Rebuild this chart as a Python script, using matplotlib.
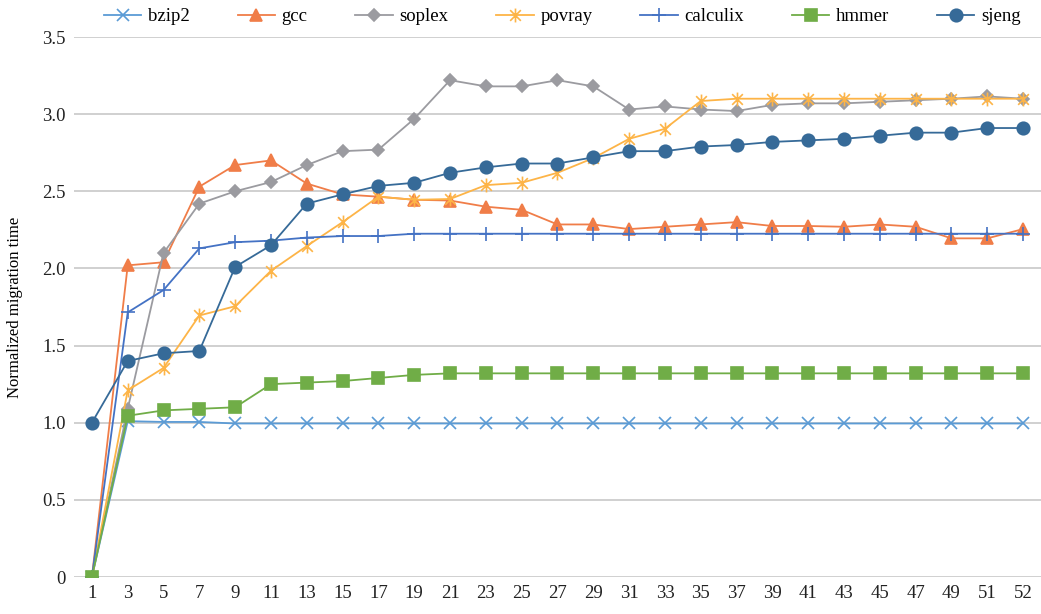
import numpy as np
import matplotlib.pyplot as plt
from matplotlib.path import Path

# x categories (evenly spaced on a category axis)
steps = ['1', '3', '5', '7', '9', '11', '13', '15', '17', '19', '21', '23', '25', '27',
         '29', '31', '33', '35', '37', '39', '41', '43', '45', '47', '49', '51', '52']

bzip2 = [0, 1.01, 1.005, 1.005, 0.995, 0.995, 0.995, 0.995, 0.995, 0.995, 0.995, 0.995, 0.995, 0.995,
         0.995, 0.995, 0.995, 0.995, 0.995, 0.995, 0.995, 0.995, 0.995, 0.995, 0.995, 0.995, 0.995]
gcc = [0, 2.02, 2.04, 2.53, 2.67, 2.70, 2.55, 2.48, 2.465, 2.445, 2.44, 2.40, 2.38, 2.285,
       2.285, 2.255, 2.27, 2.285, 2.30, 2.275, 2.275, 2.27, 2.285, 2.27, 2.195, 2.195, 2.255]
soplex = [0, 1.09, 2.10, 2.42, 2.50, 2.56, 2.67, 2.76, 2.77, 2.97, 3.22, 3.18, 3.18, 3.22,
          3.18, 3.03, 3.05, 3.03, 3.02, 3.06, 3.07, 3.07, 3.08, 3.09, 3.10, 3.115, 3.10]
povray = [0, 1.21, 1.355, 1.695, 1.755, 1.985, 2.145, 2.30, 2.465, 2.445, 2.45, 2.54, 2.555, 2.62,
          2.715, 2.84, 2.905, 3.085, 3.10, 3.10, 3.10, 3.10, 3.10, 3.10, 3.10, 3.10, 3.10]
calculix = [0, 1.715, 1.86, 2.13, 2.17, 2.18, 2.20, 2.21, 2.21, 2.225, 2.225, 2.225, 2.225, 2.225,
            2.225, 2.225, 2.225, 2.225, 2.225, 2.225, 2.225, 2.225, 2.225, 2.225, 2.225, 2.225, 2.225]
hmmer = [0, 1.045, 1.08, 1.09, 1.10, 1.25, 1.26, 1.27, 1.29, 1.31, 1.32, 1.32, 1.32, 1.32,
         1.32, 1.32, 1.32, 1.32, 1.32, 1.32, 1.32, 1.32, 1.32, 1.32, 1.32, 1.32, 1.32]
sjeng = [1.0, 1.40, 1.45, 1.465, 2.01, 2.15, 2.42, 2.48, 2.535, 2.555, 2.62, 2.655, 2.68, 2.68,
         2.72, 2.76, 2.76, 2.79, 2.80, 2.82, 2.83, 2.84, 2.86, 2.88, 2.88, 2.91, 2.91]

plt.rcParams['font.family'] = ['Liberation Serif', 'DejaVu Serif']

# excel-style star marker: x with a vertical bar
star = Path([(-1, -1), (1, 1), (-1, 1), (1, -1), (0, -1.3), (0, 1.3)],
            [Path.MOVETO, Path.LINETO, Path.MOVETO, Path.LINETO, Path.MOVETO, Path.LINETO])

series = [
    ('bzip2', bzip2, '#5B9BD5', 'x', 8),
    ('gcc', gcc, '#F07D48', '^', 9),
    ('soplex', soplex, '#9B9BA0', 'D', 6),
    ('povray', povray, '#FDB447', star, 10),
    ('calculix', calculix, '#4472C4', '+', 10),
    ('hmmer', hmmer, '#70AD47', 's', 8),
    ('sjeng', sjeng, '#366A98', 'o', 9),
]

fig = plt.figure(figsize=(10.41, 6.14), dpi=100)
ax = fig.add_axes([74 / 1041, 37 / 614, 967 / 1041, 540 / 614])

x = np.arange(len(steps))
for name, vals, col, mk, ms in series:
    ax.plot(x, vals, color=col, marker=mk, markersize=ms, linewidth=1.3,
            markeredgewidth=1.2, label=name)

ax.set_xlim(-0.5, len(steps) - 0.5)
ax.set_ylim(0, 3.5)
ax.set_xticks(x)
ax.set_xticklabels(steps)
ax.set_yticks([0, 0.5, 1.0, 1.5, 2.0, 2.5, 3.0, 3.5])
ax.set_yticklabels(['0', '0.5', '1.0', '1.5', '2.0', '2.5', '3.0', '3.5'])
ax.tick_params(length=0, labelsize=13.5, colors='#222222', pad=6)
ax.grid(axis='y', color='#D0D0D0', linewidth=1.4)
ax.set_axisbelow(True)
for s in ax.spines.values():
    s.set_visible(False)

ax.set_ylabel('Normalized migration time', fontsize=12)
ax.yaxis.set_label_coords(-0.053, 0.5)

ax.legend(loc='upper center', bbox_to_anchor=(0.505, 1.085), ncol=7, frameon=False,
          fontsize=13.5, handlelength=2.0, columnspacing=2.55, handletextpad=0.35)

fig.savefig('out.png', dpi=100)
